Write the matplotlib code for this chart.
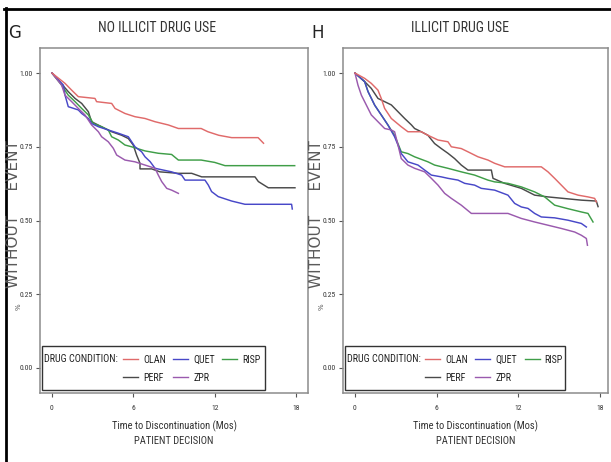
import matplotlib
matplotlib.use("Agg")
import matplotlib.pyplot as plt
from matplotlib.lines import Line2D
from matplotlib.patches import Rectangle
from matplotlib import font_manager

W, H = 611, 462

available = {f.name for f in font_manager.fontManager.ttflist}
dejavu_cond = any(f.name == 'DejaVu Sans' and f.stretch == 'condensed'
                  for f in font_manager.fontManager.ttflist)
NARROW = None
NSTRETCH = 'normal'
for cand in ['Liberation Sans Narrow', 'Roboto Condensed', 'Open Sans Condensed',
             'DejaVu Sans Condensed', 'Noto Sans Condensed']:
    if cand in available:
        NARROW = [cand, 'DejaVu Sans']
        break
if NARROW is None:
    if dejavu_cond:
        NARROW = ['DejaVu Sans']
        NSTRETCH = 'condensed'
    else:
        NARROW = ['Liberation Sans', 'DejaVu Sans']
NARROW_IS_REAL = NARROW[0] != 'Liberation Sans'
SCALE = 1.0 if NARROW_IS_REAL else 0.85

drugs = ['OLAN', 'QUET', 'RISP', 'PERF', 'ZPR']
colors = {'OLAN': '#e06a6a', 'QUET': '#4848c8', 'RISP': '#3f9e48',
          'PERF': '#4a4a4a', 'ZPR': '#9a5aae'}

# Panel G: No illicit drug use  (months, proportion without event)
g_olan_t = [0, 0.96, 1.45, 1.94, 3.17, 3.29, 4.4, 4.65, 5.38, 6.12, 6.86, 7.6, 8.58, 9.32, 11.0, 11.5, 12.3, 13.25, 15.2, 15.6]
g_olan_s = [1.0, 0.965, 0.942, 0.92, 0.914, 0.903, 0.897, 0.88, 0.863, 0.852, 0.846, 0.835, 0.824, 0.812, 0.812, 0.801, 0.789, 0.781, 0.781, 0.762]
g_risp_t = [0, 0.71, 1.2, 1.7, 2.19, 2.68, 3.05, 3.66, 4.15, 4.4, 4.89, 5.38, 5.87, 6.86, 7.84, 8.82, 9.32, 11.0, 12.0, 12.76, 17.9]
g_risp_s = [1.0, 0.959, 0.925, 0.903, 0.88, 0.858, 0.829, 0.818, 0.807, 0.784, 0.773, 0.756, 0.75, 0.736, 0.728, 0.724, 0.705, 0.705, 0.697, 0.686, 0.686]
g_quet_t = [0, 0.84, 0.96, 1.2, 1.94, 2.19, 2.68, 2.92, 3.42, 4.15, 4.89, 5.63, 6.12, 6.61, 6.86, 7.23, 7.6, 8.82, 9.56, 9.81, 11.28, 11.53, 11.77, 12.26, 13.25, 14.23, 17.67, 17.72]
g_quet_s = [1.0, 0.959, 0.925, 0.886, 0.875, 0.863, 0.846, 0.829, 0.818, 0.807, 0.796, 0.784, 0.75, 0.733, 0.716, 0.70, 0.677, 0.665, 0.654, 0.637, 0.637, 0.62, 0.598, 0.581, 0.566, 0.555, 0.555, 0.539]
g_perf_t = [0, 0.71, 1.2, 1.7, 2.19, 2.68, 2.92, 3.91, 4.4, 5.14, 5.63, 5.99, 6.24, 6.49, 6.49, 7.35, 7.96, 9.32, 10.3, 11.04, 14.97, 15.22, 15.95, 17.92]
g_perf_s = [1.0, 0.963, 0.937, 0.914, 0.897, 0.869, 0.835, 0.812, 0.801, 0.789, 0.778, 0.756, 0.722, 0.694, 0.675, 0.675, 0.665, 0.66, 0.66, 0.648, 0.648, 0.632, 0.611, 0.611]
g_zpr_t = [0, 0.71, 0.96, 1.45, 1.94, 2.43, 2.92, 3.42, 3.66, 4.15, 4.52, 4.77, 5.38, 6.12, 6.86, 7.6, 7.84, 8.09, 8.46, 8.82, 9.32]
g_zpr_s = [1.0, 0.959, 0.925, 0.903, 0.88, 0.858, 0.824, 0.801, 0.784, 0.767, 0.745, 0.722, 0.705, 0.699, 0.688, 0.677, 0.654, 0.632, 0.609, 0.603, 0.592]

# Panel H: Illicit drug use
h_olan_t = [0, 0.71, 1.2, 1.69, 1.93, 2.18, 2.67, 3.40, 3.89, 4.87, 5.36, 6.1, 6.83, 7.08, 7.81, 8.3, 9.04, 9.77, 10.26, 11.0, 13.69, 14.18, 14.67, 15.16, 15.65, 16.39, 17.12, 17.61, 17.73]
h_olan_s = [1.0, 0.982, 0.965, 0.942, 0.914, 0.88, 0.846, 0.818, 0.801, 0.801, 0.789, 0.773, 0.767, 0.75, 0.744, 0.733, 0.716, 0.705, 0.694, 0.682, 0.682, 0.665, 0.643, 0.62, 0.597, 0.586, 0.58, 0.575, 0.563]
h_perf_t = [0, 0.71, 1.2, 1.69, 2.18, 2.67, 3.16, 3.65, 4.15, 4.38, 4.87, 5.36, 5.85, 6.34, 6.83, 7.32, 7.81, 8.3, 10.02, 10.14, 10.99, 12.22, 13.2, 14.18, 16.63, 17.73, 17.86]
h_perf_s = [1.0, 0.971, 0.948, 0.914, 0.903, 0.892, 0.869, 0.846, 0.824, 0.812, 0.801, 0.789, 0.761, 0.744, 0.728, 0.71, 0.688, 0.671, 0.671, 0.643, 0.626, 0.609, 0.586, 0.58, 0.569, 0.566, 0.547]
h_risp_t = [0, 0.71, 0.96, 1.45, 1.93, 2.42, 2.91, 3.40, 3.89, 4.38, 5.36, 5.85, 6.83, 7.81, 8.79, 9.77, 10.26, 11.24, 12.22, 13.2, 13.94, 14.67, 15.65, 16.63, 17.12, 17.49]
h_risp_s = [1.0, 0.971, 0.937, 0.891, 0.858, 0.824, 0.789, 0.733, 0.727, 0.716, 0.699, 0.688, 0.677, 0.665, 0.654, 0.637, 0.631, 0.626, 0.614, 0.597, 0.58, 0.552, 0.54, 0.529, 0.524, 0.495]
h_quet_t = [0, 0.71, 0.96, 1.45, 1.93, 2.42, 2.91, 3.16, 3.40, 3.89, 4.63, 5.12, 5.61, 6.34, 6.83, 7.57, 8.06, 8.79, 9.28, 10.26, 11.24, 11.73, 12.22, 12.71, 13.2, 13.69, 14.67, 15.65, 16.63, 17.0]
h_quet_s = [1.0, 0.971, 0.937, 0.891, 0.858, 0.824, 0.784, 0.756, 0.727, 0.699, 0.688, 0.671, 0.654, 0.648, 0.643, 0.637, 0.626, 0.62, 0.609, 0.603, 0.586, 0.558, 0.546, 0.541, 0.524, 0.512, 0.509, 0.501, 0.49, 0.478]
h_zpr_t = [0, 0.22, 0.47, 0.96, 1.2, 1.69, 2.18, 2.67, 2.91, 3.16, 3.40, 3.89, 4.38, 5.12, 5.61, 6.1, 6.59, 7.08, 7.81, 8.55, 11.24, 12.22, 13.2, 14.18, 15.16, 16.14, 16.63, 17.0, 17.08]
h_zpr_s = [1.0, 0.959, 0.925, 0.88, 0.858, 0.835, 0.812, 0.807, 0.801, 0.756, 0.71, 0.688, 0.677, 0.665, 0.643, 0.62, 0.592, 0.575, 0.552, 0.524, 0.524, 0.507, 0.495, 0.484, 0.473, 0.461, 0.45, 0.439, 0.416]

panel_g = {'OLAN': (g_olan_t, g_olan_s), 'QUET': (g_quet_t, g_quet_s), 'RISP': (g_risp_t, g_risp_s),
           'PERF': (g_perf_t, g_perf_s), 'ZPR': (g_zpr_t, g_zpr_s)}
panel_h = {'OLAN': (h_olan_t, h_olan_s), 'QUET': (h_quet_t, h_quet_s), 'RISP': (h_risp_t, h_risp_s),
           'PERF': (h_perf_t, h_perf_s), 'ZPR': (h_zpr_t, h_zpr_s)}

xticks = [0, 6, 12, 18]
yticks = [0.0, 0.25, 0.5, 0.75, 1.0]
ytick_labels = ['0.00', '0.25', '0.50', '0.75', '1.00']

fig = plt.figure(figsize=(W / 100, H / 100), dpi=100)


def fx(px):
    return px / W


def fy(py):
    return 1 - py / H


def nfont(size):
    return dict(family=NARROW, fontstretch=NSTRETCH, fontsize=size * SCALE)


def make_panel(left_px, right_px, data, letter, letter_px, title, title_cx, xlim):
    top_px, bot_px = 48, 393
    ax = fig.add_axes([fx(left_px), fy(bot_px), (right_px - left_px) / W, (bot_px - top_px) / H])
    order = ['PERF', 'RISP', 'QUET', 'ZPR', 'OLAN']
    for d in order:
        t, s = data[d]
        ax.plot(t, s, color=colors[d], lw=1.05, zorder=3)
    ax.set_xlim(*xlim)
    ax.set_ylim(-0.085, 1.085)
    ax.set_xticks(xticks)
    ax.set_xticklabels([str(v) for v in xticks], color='#333333', **nfont(5.5))
    ax.set_yticks(yticks)
    ax.set_yticklabels(ytick_labels, color='#333333', **nfont(5.5))
    ax.tick_params(axis='both', length=3, width=0.8, color='#555555', pad=2)
    ax.tick_params(axis='x', pad=6)
    for sp in ax.spines.values():
        sp.set_color('#8c8c8c')
        sp.set_linewidth(1.1)

    # legend box
    ax.add_patch(Rectangle((0.0075, 0.0087), 0.832, 0.1275, transform=ax.transAxes,
                           fill=False, edgecolor='#333333', lw=1.0, zorder=4))
    ax.text(0.015, 0.0986, 'DRUG CONDITION:', transform=ax.transAxes,
            va='center', ha='left', color='#222222', **nfont(7.3))
    handles = [Line2D([], [], color=colors[d], lw=1.0) for d in ['OLAN', 'PERF', 'QUET', 'ZPR', 'RISP']]
    labels = ['OLAN', 'PERF', 'QUET', 'ZPR', 'RISP']
    prop = font_manager.FontProperties(family=NARROW, stretch=NSTRETCH, size=7.2 * SCALE)
    leg = ax.legend(handles, labels, ncol=3, frameon=False, loc='center left',
                    bbox_to_anchor=(0.31, 0.071), prop=prop,
                    handlelength=1.5, handletextpad=0.5, columnspacing=0.75,
                    labelspacing=0.8, borderpad=0.0, borderaxespad=0.0)
    for txt in leg.get_texts():
        txt.set_color('#222222')

    fig.text(fx(letter_px[0]), fy(letter_px[1]), letter, fontsize=12, family='DejaVu Sans',
             ha='center', va='center', color='#222222')
    fig.text(fx(title_cx), fy(28), title, ha='center', va='center',
             color='#333333', **nfont(10))
    cx = (left_px + right_px) / 2
    fig.text(fx(cx), fy(426), 'Time to Discontinuation (Mos)',
             ha='center', va='center', color='#333333', **nfont(7.6))
    fig.text(fx(cx), fy(441), 'PATIENT DECISION',
             ha='center', va='center', color='#333333', **nfont(7.6))
    return ax


axG = make_panel(40, 308, panel_g, 'G', (15, 33), 'NO ILLICIT DRUG USE', 157, (-0.885, 18.88))
axH = make_panel(343, 608, panel_h, 'H', (318, 33), 'ILLICIT DRUG USE', 460, (-0.88, 18.59))

# y labels
for x_px in (13.5, 316.5):
    fig.text(fx(x_px), fy(214), 'WITHOUT     EVENT', rotation=90, fontsize=11,
             family='DejaVu Sans', ha='center', va='center', color='#5a5a5a')
    fig.text(fx(x_px + 5), fy(307), '%', rotation=90, fontsize=5,
             family='DejaVu Sans', ha='center', va='center', color='#555555')

# outer frame lines
fig.add_artist(Line2D([fx(4), fx(611)], [fy(8.5), fy(8.5)], color='black', lw=2.0))
fig.add_artist(Line2D([fx(5.5), fx(5.5)], [fy(8), fy(462)], color='black', lw=2.0))

fig.savefig('out.png', dpi=100)
